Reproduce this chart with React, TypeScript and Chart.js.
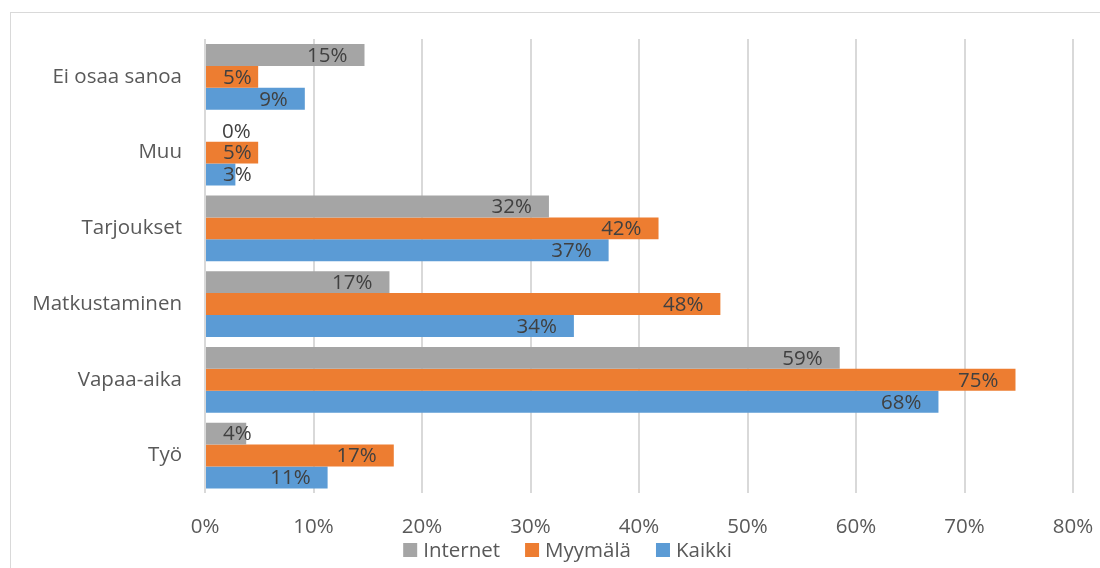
import React, { useEffect, useRef } from "react";
import { Chart, registerables } from "chart.js";

Chart.register(...registerables);

const categories = ["Ei osaa sanoa", "Muu", "Tarjoukset", "Matkustaminen", "Vapaa-aika", "Työ"];
const internetValues = [14.7, 0, 31.7, 17.0, 58.5, 3.8];
const myymalaValues = [4.9, 4.9, 41.8, 47.5, 74.7, 17.4];
const kaikkiValues = [9.2, 2.8, 37.2, 34.0, 67.6, 11.3];
const seriesNames = ["Internet", "Myymälä", "Kaikki"];
const seriesColors = ["#A5A5A5", "#ED7D31", "#5B9BD5"];
const xTicks = [0, 10, 20, 30, 40, 50, 60, 70, 80];

const FONT = "'Open Sans', sans-serif";
const FS = 20.5;
const TEXT = "#595959";

const framePlugin = {
  id: "frame",
  beforeDraw(chart: any) {
    const ctx = chart.ctx;
    ctx.save();
    ctx.fillStyle = "#ffffff";
    ctx.fillRect(0, 0, chart.width, chart.height);
    ctx.strokeStyle = "#d9d9d9";
    ctx.lineWidth = 1;
    ctx.strokeRect(10.5, 12.5, chart.width + 20, chart.height + 20);
    ctx.restore();
  },
};

const labelPlugin = {
  id: "barLabels",
  afterDatasetsDraw(chart: any) {
    const ctx = chart.ctx;
    ctx.save();
    ctx.font = `${FS}px ${FONT}`;
    ctx.fillStyle = "#404040";
    ctx.textBaseline = "middle";
    ctx.textAlign = "right";
    chart.data.datasets.forEach((ds: any, di: number) => {
      const meta = chart.getDatasetMeta(di);
      meta.data.forEach((bar: any, i: number) => {
        const v = ds.data[i];
        const text = Math.round(v) + "%";
        const w = ctx.measureText(text).width;
        const right = Math.max(bar.x - 17, bar.base + 17 + w);
        ctx.fillText(text, right, bar.y + 1);
      });
    });
    ctx.restore();
  },
};

const legendPlugin = {
  id: "bottomLegend",
  afterDraw(chart: any) {
    const ctx = chart.ctx;
    ctx.save();
    ctx.font = `${FS}px ${FONT}`;
    ctx.textBaseline = "middle";
    ctx.textAlign = "left";
    const box = 14;
    const gapBoxText = 6;
    const gapItems = 25;
    const items = chart.data.datasets.map((ds: any) => ({
      text: ds.label,
      color: ds.backgroundColor,
      w: ctx.measureText(ds.label).width,
    }));
    const total =
      items.reduce((s: number, it: any) => s + box + gapBoxText + it.w, 0) + gapItems * (items.length - 1);
    const centerX = 567.5;
    const cy = 550;
    let x = centerX - total / 2;
    items.forEach((it: any) => {
      ctx.fillStyle = it.color;
      ctx.fillRect(x, cy - box / 2, box, box);
      ctx.fillStyle = TEXT;
      ctx.fillText(it.text, x + box + gapBoxText, cy + 1);
      x += box + gapBoxText + it.w + gapItems;
    });
    ctx.restore();
  },
};

export default function App() {
  const ref = useRef<HTMLCanvasElement>(null);
  useEffect(() => {
    if (!ref.current) return;
    const chart = new Chart(ref.current, {
      type: "bar",
      data: {
        labels: categories,
        datasets: seriesNames.map((name, i) => ({
          label: name,
          data: [internetValues, myymalaValues, kaikkiValues][i],
          backgroundColor: seriesColors[i],
        })),
      },
      options: {
        indexAxis: "y",
        animation: false,
        responsive: false,
        maintainAspectRatio: false,
        datasets: { bar: { categoryPercentage: 0.868, barPercentage: 1.0 } },
        layout: { padding: { left: 20, right: 27, top: 39, bottom: 8 } },
        scales: {
          x: {
            min: 0,
            max: 80,
            afterBuildTicks: (scale: any) => {
              scale.ticks = xTicks.map((v) => ({ value: v }));
            },
            afterFit: (scale: any) => {
              scale.paddingLeft = 0;
              scale.paddingRight = 0;
            },
            ticks: {
              callback: (v: any) => v + "%",
              font: { family: FONT, size: FS },
              color: TEXT,
              padding: 21,
              maxRotation: 0,
            },
            grid: { color: "#d9d9d9", lineWidth: 2, drawTicks: false },
            border: { display: false },
          },
          y: {
            afterFit: (scale: any) => {
              scale.width = 185;
            },
            ticks: {
              font: { family: FONT, size: FS },
              color: TEXT,
              padding: 23,
            },
            grid: { display: false, drawTicks: false },
            border: { display: false },
          },
        },
        plugins: {
          legend: { display: false },
          tooltip: { enabled: false },
        },
      },
      plugins: [framePlugin, labelPlugin, legendPlugin],
    });
    return () => chart.destroy();
  }, []);
  return (
    <div style={{ position: "fixed", left: 0, top: 0, width: 1100, height: 568 }}>
      <canvas ref={ref} width={1100} height={568} style={{ width: 1100, height: 568 }} />
    </div>
  );
}
